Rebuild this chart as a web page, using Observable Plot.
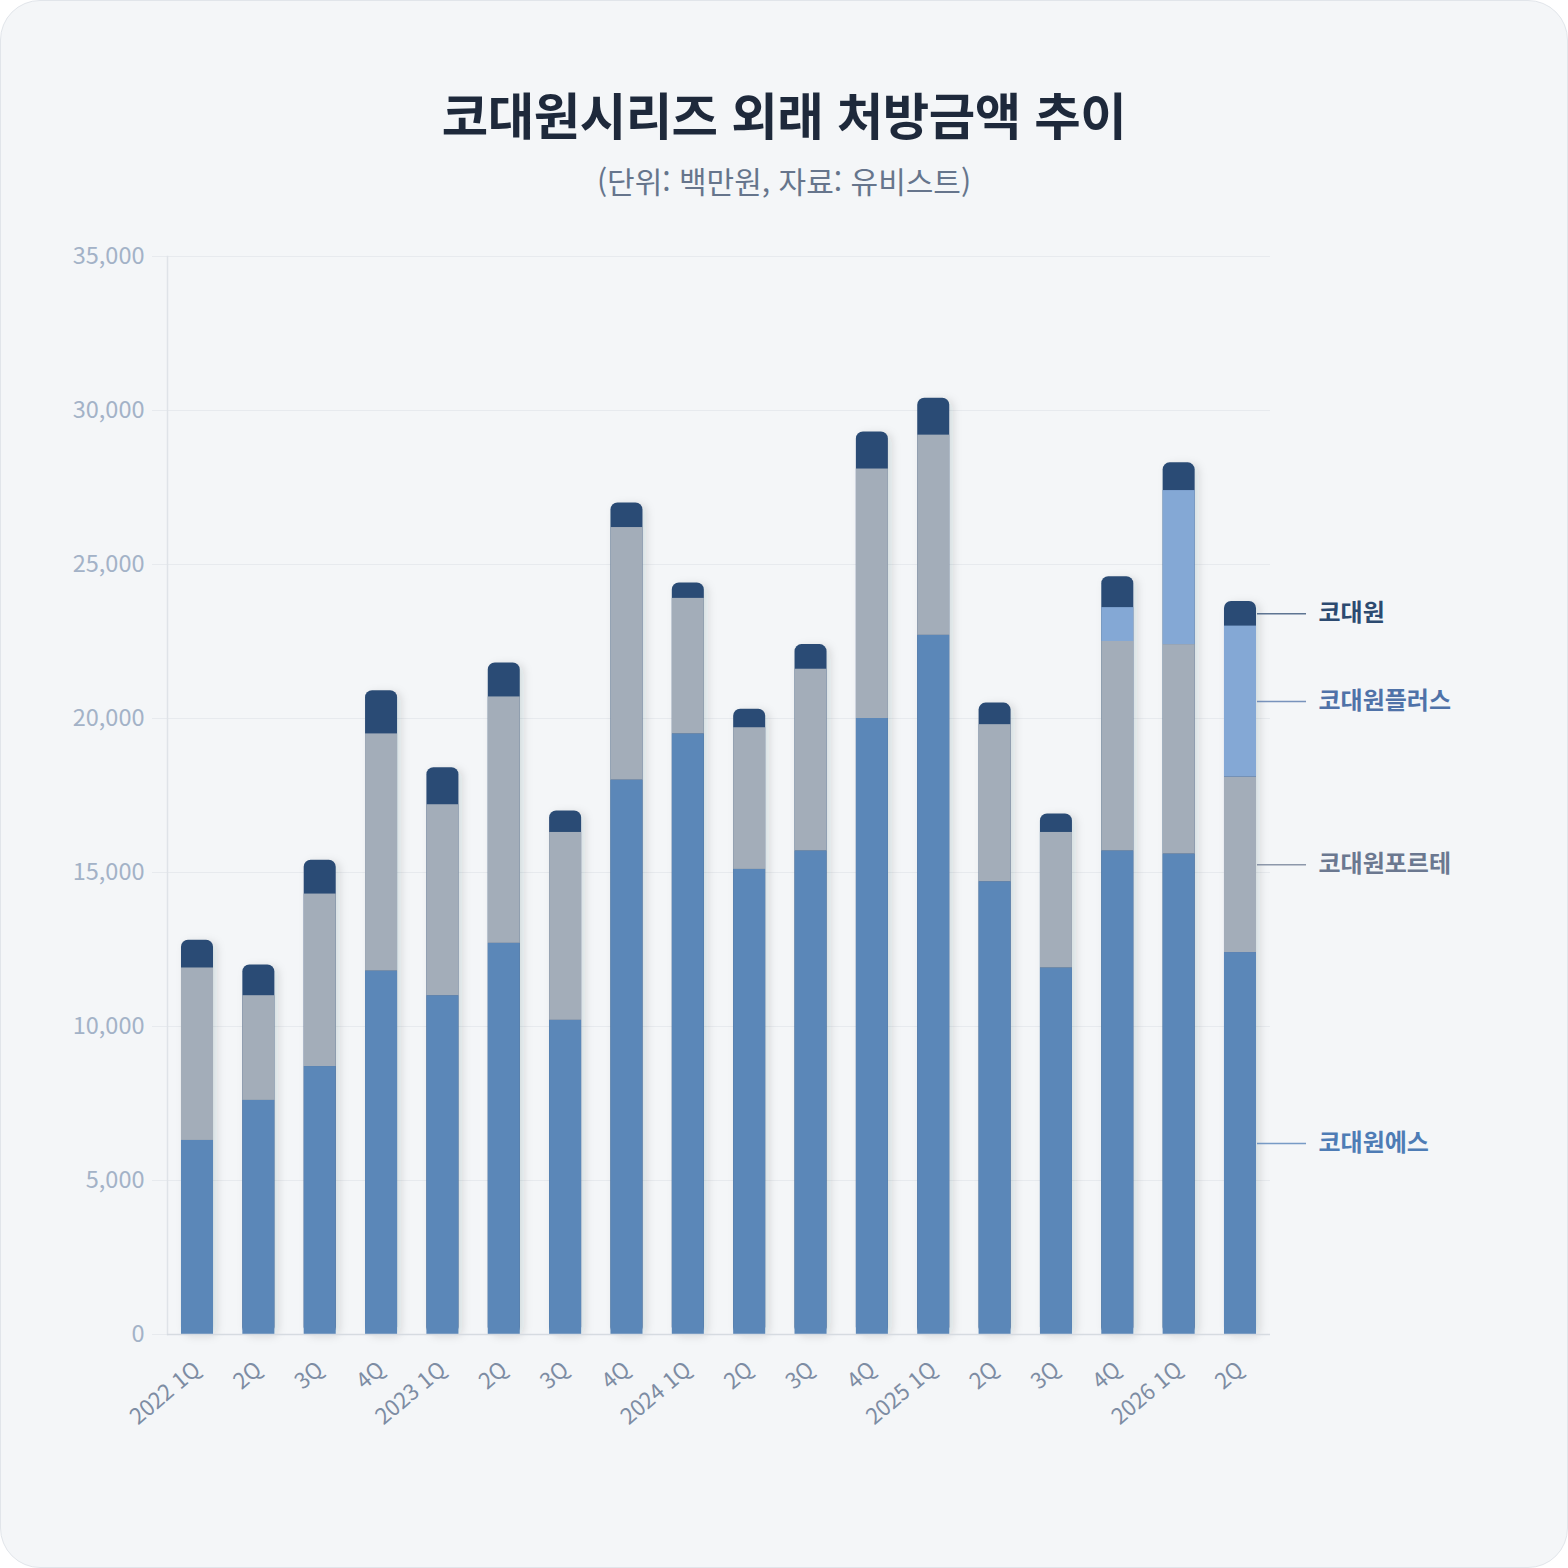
<!DOCTYPE html>
<html lang="ko">
<head>
<meta charset="utf-8">
<script src="https://cdn.jsdelivr.net/npm/d3@7"></script>
<script src="https://cdn.jsdelivr.net/npm/@observablehq/plot@0.6"></script>
<style>
  html, body { margin: 0; padding: 0; background: #ffffff; }
  body { width: 1568px; height: 1568px; position: relative; overflow: hidden; font-family: "Noto Sans CJK KR", "Noto Sans", sans-serif; }
  #card { position: absolute; left: 0; top: 0; width: 1566px; height: 1566px; background: #f4f6f8; border: 1px solid #e1e5ea; border-radius: 40px; }
  #title { position: absolute; left: 0; width: 1568px; top: 88px; text-align: center; font-size: 50.5px; font-weight: 700; color: #1e293b; line-height: 1; letter-spacing: -0.5px; }
  #subtitle { position: absolute; left: 0; width: 1568px; top: 165px; text-align: center; font-size: 30px; font-weight: 400; color: #66758c; line-height: 1; }
  #chart { position: absolute; left: 0; top: 216px; }
</style>
</head>
<body>
<div id="card"></div>
<div id="title">코대원시리즈 외래 처방금액 추이</div>
<div id="subtitle">(단위: 백만원, 자료: 유비스트)</div>
<div id="chart"></div>
<script>
// ---- data ----
const quarters = ["2022 1Q","2022 2Q","2022 3Q","2022 4Q","2023 1Q","2023 2Q","2023 3Q","2023 4Q","2024 1Q","2024 2Q","2024 3Q","2024 4Q","2025 1Q","2025 2Q","2025 3Q","2025 4Q","2026 1Q","2026 2Q"];
const tickLabels = ["2022 1Q","2Q","3Q","4Q","2023 1Q","2Q","3Q","4Q","2024 1Q","2Q","3Q","4Q","2025 1Q","2Q","3Q","4Q","2026 1Q","2Q"];
const seriesNames = ["코대원에스","코대원포르테","코대원플러스","코대원"];
const seriesColors = ["#5b87b8","#a3adb9","#84a8d5","#2c4c75"];
const labelColors = ["#4e7cb5","#6b7890","#4f72a8","#2c4a70"];
const ess   = [6300,7600,8700,11800,11000,12700,10200,18000,19500,15100,15700,20000,22700,14700,11900,15700,15600,12400];
const forte = [5600,3400,5600,7700,6200,8000,6100,8200,4400,4600,5900,8100,6500,5100,4400,6800,6800,5700];
const plus  = [0,0,0,0,0,0,0,0,0,0,0,0,0,0,0,1100,5000,4900];
const base  = [900,1000,1100,1400,1200,1100,700,800,500,600,800,1200,1200,700,600,1000,900,800];
const yTicks = [0,5000,10000,15000,20000,25000,30000,35000];

// ---- tables built from arrays ----
const seriesValues = [ess, forte, plus, base];
const totals = quarters.map((q, i) => ess[i] + forte[i] + plus[i] + base[i]);
const totalRows = quarters.map((q, i) => ({q, total: totals[i]}));
const lowerRows = [];
for (let s = 0; s < 3; s++) {
  quarters.forEach((q, i) => lowerRows.push({q, series: seriesNames[s], value: seriesValues[s][i]}));
}
const last = quarters.length - 1;
const lastQ = quarters[last];
let acc = 0;
const labelRows = seriesNames.map((name, s) => {
  const v = seriesValues[s][last];
  const mid = acc + v / 2;
  acc += v;
  return {q: lastQ, name, y: mid, color: labelColors[s]};
});
const labelOf = Object.fromEntries(quarters.map((q, i) => [q, tickLabels[i]]));

const font = "'Noto Sans CJK KR', 'Noto Sans', sans-serif";

const plot = Plot.plot({
  width: 1568,
  height: 1300,
  marginLeft: 167,
  marginRight: 298,
  marginTop: 40,
  marginBottom: 182,
  style: {background: "transparent", fontFamily: font, overflow: "visible"},
  x: {type: "band", domain: quarters, paddingInner: 0.478, paddingOuter: 0.228, round: false, label: null},
  y: {domain: [0, 35000], label: null},
  color: {domain: seriesNames, range: seriesColors},
  marks: [
    Plot.gridY(yTicks, {stroke: "#e7eaee", strokeOpacity: 1, strokeWidth: 1.2}),
    Plot.axisY(yTicks, {tickSize: 15, tickPadding: 8, stroke: "#e7eaee", strokeOpacity: 1, tickFormat: d3.format(","), fontSize: 23.5, fill: "#a3b2c7", label: null}),
    Plot.frame({anchor: "left", stroke: "#dfe3e8", strokeWidth: 1.5}),
    Plot.barY(totalRows, {x: "q", y: "total", fill: seriesColors[3], rx: 7}),
    Plot.barY(lowerRows, {x: "q", y: "value", fill: "series", order: seriesNames}),
    Plot.ruleY([0], {stroke: "#d6dbe1", strokeWidth: 1.5}),
    Plot.axisX({tickSize: 0, tickPadding: 32, tickRotate: -40, tickFormat: d => labelOf[d], fontSize: 22, fill: "#7d8ca3", label: null}),
    Plot.tickY(labelRows, {x: "q", y: "y", dx: 33, insetRight: -17, stroke: "color", strokeOpacity: 0.75, strokeWidth: 1.5}),
    Plot.text(labelRows, {x: "q", y: "y", text: "name", dx: 78, textAnchor: "start", fill: "color", fontSize: 24, fontWeight: 700})
  ]
});

// soft drop shadow on the bar silhouettes
const svg = d3.select(plot);
const defs = svg.insert("defs", ":first-child");
const f = defs.append("filter").attr("id", "barShadow").attr("x", "-50%").attr("y", "-10%").attr("width", "200%").attr("height", "120%");
f.append("feDropShadow").attr("dx", 4).attr("dy", 2).attr("stdDeviation", 4).attr("flood-color", "#1e293b").attr("flood-opacity", 0.13);
const barGroups = svg.selectAll("g[aria-label='bar']").nodes();
if (barGroups.length) d3.select(barGroups[0]).attr("filter", "url(#barShadow)");

document.getElementById("chart").appendChild(plot);
</script>
</body>
</html>
